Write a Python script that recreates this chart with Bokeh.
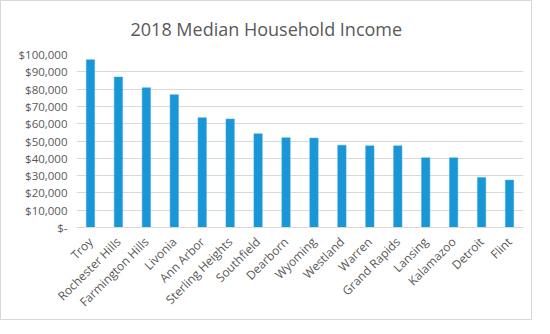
from math import pi
from bokeh.plotting import figure
from bokeh.models import FactorRange, Range1d, FixedTicker, NumeralTickFormatter
from bokeh.embed import file_html
from bokeh.resources import INLINE

cities = ["Troy", "Rochester Hills", "Farmington Hills", "Livonia", "Ann Arbor",
          "Sterling Heights", "Southfield", "Dearborn", "Wyoming", "Westland",
          "Warren", "Grand Rapids", "Lansing", "Kalamazoo", "Detroit", "Flint"]
income = [97000, 87000, 80800, 76800, 63500, 62700, 54200, 51900, 51700, 47600,
          47200, 47200, 40300, 40300, 28900, 27400]
y_ticks = [0, 10000, 20000, 30000, 40000, 50000, 60000, 70000, 80000, 90000, 100000]

FONT = "Open Sans"
GRAY = "#595959"

p = figure(width=532, height=320, x_range=FactorRange(*cities), y_range=Range1d(0, 100000),
           output_backend="svg", toolbar_location=None,
           min_border_left=75, min_border_right=10, min_border_top=51, min_border_bottom=94,
           title="2018 Median Household Income")
p.styles = {"border": "1px solid #d9d9d9"}

p.vbar(x=cities, top=income, width=0.3, color="#1996d6", line_color="#41a9df", line_width=0.5)

p.title.align = "left"
p.title.text_font = FONT
p.title.text_font_size = "18px"
p.title.text_font_style = "normal"
p.title.text_color = GRAY
p.title.standoff = 27
p.title.offset = 54

p.outline_line_color = None
p.xgrid.grid_line_color = None
p.ygrid.grid_line_color = "#d9d9d9"
p.ygrid.grid_line_width = 1

p.yaxis.ticker = FixedTicker(ticks=y_ticks)
p.yaxis.formatter = NumeralTickFormatter(format="$0,0")
p.yaxis.major_label_overrides = {0: "$-"}
p.yaxis.axis_line_color = None
p.yaxis.major_tick_line_color = None
p.yaxis.minor_tick_line_color = None
p.yaxis.major_label_text_font = FONT
p.yaxis.major_label_text_font_size = "11.5px"
p.yaxis.major_label_text_color = GRAY
p.yaxis.major_label_standoff = 3

p.xaxis.axis_line_color = "#d9d9d9"
p.xaxis.major_tick_line_color = None
p.xaxis.minor_tick_line_color = None
p.xaxis.major_label_orientation = pi / 4
p.xaxis.major_label_text_font = FONT
p.xaxis.major_label_text_font_size = "12px"
p.xaxis.major_label_text_color = GRAY
p.xaxis.major_label_standoff = 6

open("out.html", "w").write(file_html(p, INLINE))
